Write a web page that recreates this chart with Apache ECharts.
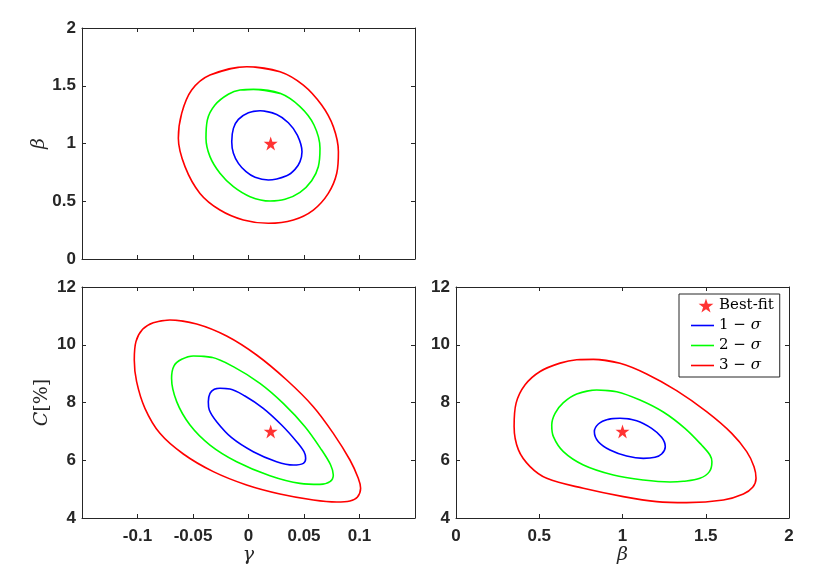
<!DOCTYPE html>
<html>
<head>
<meta charset="UTF-8">
<title>Confidence contours</title>
<script src="https://cdn.jsdelivr.net/npm/echarts@6/dist/echarts.min.js"></script>
<style>
  html, body { margin: 0; padding: 0; width: 100%; height: 100%; background: #fff; overflow: hidden; }
  #main { width: 830px; height: 576px; }
</style>
</head>
<body>
<div id="main"></div>
<script>
// best-fit point
var bestGamma = 0.02, bestBeta = 1.0, bestC = 7.0;

// axis ranges: [min, max, interval]
var gammaTicks = [-0.15, 0.15, 0.05];
var betaTicks = [0, 2, 0.5];
var cTicks = [4, 12, 2];

// gamma vs beta (top left), points read clockwise from the top
var gb1 = [[0.0104,1.284],[0.0254,1.252],[0.0359,1.180],[0.0440,1.073],[0.0482,0.929],[0.0464,0.843],
  [0.0419,0.776],[0.0344,0.721],[0.0179,0.684],[0.0059,0.707],[-0.0022,0.756],[-0.0091,0.828],
  [-0.0136,0.915],[-0.0151,1.016],[-0.0136,1.131],[-0.0091,1.209],[-0.0001,1.267]];
var gb2 = [[0.0044,1.469],[0.0284,1.434],[0.0464,1.319],[0.0590,1.160],[0.0644,0.958],[0.0629,0.799],
  [0.0569,0.678],[0.0464,0.577],[0.0329,0.517],[0.0194,0.502],[0.0014,0.540],[-0.0136,0.626],
  [-0.0257,0.742],[-0.0347,0.886],[-0.0383,1.045],[-0.0371,1.203],[-0.0302,1.333],[-0.0182,1.426],
  [-0.0076,1.463]];
var gb3 = [[-0.0016,1.665],[0.0284,1.622],[0.0494,1.506],[0.0659,1.333],[0.0764,1.146],[0.0810,0.929],
  [0.0795,0.742],[0.0719,0.568],[0.0584,0.424],[0.0404,0.338],[0.0179,0.309],[-0.0046,0.338],
  [-0.0257,0.424],[-0.0437,0.568],[-0.0572,0.800],[-0.0632,1.045],[-0.0602,1.261],[-0.0512,1.463],
  [-0.0347,1.593]];

// gamma vs C (bottom left)
var gc1 = [[-0.0257,8.491],[-0.0167,8.468],[-0.0032,8.225],[0.0133,7.798],[0.0298,7.221],[0.0434,6.644],
  [0.0500,6.297],[0.0515,6.066],[0.0494,5.893],[0.0404,5.835],[0.0253,5.951],[0.0043,6.297],
  [-0.0152,6.782],[-0.0287,7.336],[-0.0353,7.740],[-0.0362,8.029],[-0.0347,8.317],[-0.0308,8.456]];
var gc2 = [[-0.0497,9.610],[-0.0332,9.564],[-0.0137,9.241],[0.0103,8.664],[0.0313,7.971],[0.0509,7.163],
  [0.0659,6.355],[0.0740,5.835],[0.0764,5.489],[0.0734,5.259],[0.0644,5.166],[0.0464,5.200],
  [0.0193,5.466],[-0.0107,5.951],[-0.0347,6.528],[-0.0527,7.221],[-0.0647,8.029],[-0.0693,8.837],
  [-0.0672,9.264],[-0.0602,9.495]];
var gc3 = [[-0.0708,10.857],[-0.0467,10.719],[-0.0197,10.303],[0.0073,9.645],[0.0344,8.779],[0.0584,7.856],
  [0.0764,6.932],[0.0914,6.009],[0.0989,5.374],[0.1010,5.027],[0.0980,4.716],[0.0914,4.589],
  [0.0794,4.554],[0.0584,4.623],[0.0283,4.831],[-0.0017,5.143],[-0.0317,5.605],[-0.0587,6.216],
  [-0.0798,6.932],[-0.0933,7.798],[-0.1008,8.721],[-0.1029,9.472],[-0.1014,10.107],[-0.0954,10.534],
  [-0.0858,10.765]];

// beta vs C (bottom right)
var bc1 = [[0.985,7.452],[1.085,7.371],[1.175,7.105],[1.235,6.794],[1.257,6.471],[1.235,6.217],
  [1.195,6.101],[1.125,6.066],[1.025,6.147],[0.925,6.355],[0.855,6.644],[0.831,6.990],[0.855,7.255],
  [0.915,7.417]];
var bc2 = [[0.845,8.433],[0.965,8.375],[1.105,8.087],[1.245,7.671],[1.375,7.105],[1.475,6.528],
  [1.525,6.182],[1.537,5.951],[1.522,5.605],[1.465,5.374],[1.365,5.270],[1.285,5.247],[1.125,5.316],
  [0.945,5.489],[0.765,5.836],[0.645,6.297],[0.585,6.817],[0.575,7.221],[0.595,7.625],[0.645,7.994],
  [0.725,8.294]];
var bc3 = [[0.825,9.495],[0.985,9.356],[1.145,8.987],[1.325,8.410],[1.505,7.683],[1.656,6.932],
  [1.746,6.297],[1.790,5.778],[1.802,5.374],[1.782,5.062],[1.726,4.831],[1.606,4.623],[1.385,4.531],
  [1.205,4.566],[1.005,4.739],[0.765,5.027],[0.545,5.374],[0.445,5.780],[0.375,6.358],[0.349,7.168],
  [0.361,7.977],[0.415,8.613],[0.505,9.075],[0.625,9.364],[0.725,9.480]];

var legendNames = ['Best-fit', '1 \u2212 \u03c3', '2 \u2212 \u03c3', '3 \u2212 \u03c3'];
var sigmaColors = ['#0000ff', '#00ff00', '#ff0000'];

var starPath = 'path://M50,0 L61.8,35.3 L98.9,35.3 L68.9,57.1 L80.3,92.4 L50,70.6 L19.7,92.4 L31.1,57.1 L1.1,35.3 L38.2,35.3 Z';
var starIcon = 'path://M-45,46 L-45,46.01 L-44.99,46 Z M50,0 L61.8,35.3 L98.9,35.3 L68.9,57.1 L80.3,92.4 L50,70.6 L19.7,92.4 L31.1,57.1 L1.1,35.3 L38.2,35.3 Z';
var lineIcon = 'path://M0,0 L23,0 L23,1.6 L0,1.6 Z';
var ink = '#262626';

// wrap the loop so the smoothing has neighbours at the seam
function closeLoop(pts) {
  return [pts[pts.length - 1]].concat(pts, [pts[0], pts[1]]);
}

function axisPair(kind, grid, ticks, showLabels, name, nameGap) {
  var base = {
    gridIndex: grid,
    type: 'value',
    min: ticks[0], max: ticks[1], interval: ticks[2],
    axisLine: { show: true, onZero: false, lineStyle: { color: ink, width: 1 } },
    axisTick: { show: true, inside: true, length: 4, lineStyle: { color: ink } },
    splitLine: { show: false }
  };
  var main = Object.assign({}, base, {
    position: kind === 'x' ? 'bottom' : 'left',
    axisLabel: {
      show: showLabels, color: ink, fontFamily: 'Liberation Sans', fontWeight: 'bold', fontSize: 17,
      margin: kind === 'x' ? 10 : 6,
      showMinLabel: ticks !== gammaTicks,
      showMaxLabel: ticks !== gammaTicks,
      formatter: function (v) { return String(Math.round(v * 1000) / 1000); }
    }
  });
  if (name) {
    main.name = name;
    main.nameLocation = 'middle';
    main.nameGap = nameGap;
    main.nameTextStyle = {
      color: ink, fontFamily: 'DejaVu Serif', fontStyle: 'italic', fontSize: 19,
      rich: {
        i: { fontFamily: 'DejaVu Serif', fontStyle: 'italic', fontSize: 19, color: ink },
        u: { fontFamily: 'DejaVu Serif', fontStyle: 'normal', fontSize: 19, color: ink }
      }
    };
  }
  var mirror = Object.assign({}, base, {
    position: kind === 'x' ? 'top' : 'right',
    axisLabel: { show: false }
  });
  return [main, mirror];
}

var xAxes = [].concat(
  axisPair('x', 0, gammaTicks, false, null),
  axisPair('x', 1, gammaTicks, true, '\u03b3', 28),
  axisPair('x', 2, betaTicks, true, '\u03b2', 28)
);
var yAxes = [].concat(
  axisPair('y', 0, betaTicks, true, '\u03b2', 30),
  axisPair('y', 1, cTicks, true, '{i|C}{u|[%]}', 30),
  axisPair('y', 2, cTicks, true, null)
);

var panels = [
  { loops: [gb1, gb2, gb3], best: [bestGamma, bestBeta] },
  { loops: [gc1, gc2, gc3], best: [bestGamma, bestC] },
  { loops: [bc1, bc2, bc3], best: [bestBeta, bestC] }
];

var series = [];
panels.forEach(function (p, i) {
  p.loops.forEach(function (loop, k) {
    series.push({
      name: legendNames[k + 1],
      type: 'line',
      xAxisIndex: 2 * i, yAxisIndex: 2 * i,
      data: closeLoop(loop),
      symbol: 'none',
      smooth: 0.35,
      lineStyle: { color: sigmaColors[k], width: 1.6, join: 'round' },
      itemStyle: { color: sigmaColors[k] },
      animation: false
    });
  });
  series.push({
    name: legendNames[0],
    type: 'scatter',
    xAxisIndex: 2 * i, yAxisIndex: 2 * i,
    data: [p.best],
    symbol: starPath,
    symbolSize: 14,
    itemStyle: { color: '#ff0000' },
    z: 5,
    animation: false
  });
});

var chart = echarts.init(document.getElementById('main'));
chart.setOption({
  backgroundColor: '#ffffff',
  animation: false,
  grid: [
    { left: 82, top: 28, width: 333, height: 231 },
    { left: 82, top: 287, width: 333, height: 231 },
    { left: 456, top: 287, width: 333, height: 231 }
  ],
  xAxis: xAxes,
  yAxis: yAxes,
  legend: {
    orient: 'vertical',
    left: 679, top: 294,
    width: 104,
    padding: [4, 6, 4, 12],
    itemGap: 5,
    itemWidth: 23, itemHeight: 14,
    symbolKeepAspect: true,
    borderColor: ink, borderWidth: 1, borderRadius: 0,
    backgroundColor: '#ffffff',
    selectedMode: false,
    data: legendNames.map(function (n, i) {
      return { name: n, icon: i === 0 ? starIcon : lineIcon };
    }),
    formatter: function (n) {
      if (n === legendNames[0]) return '{t|' + n + '}';
      return '{t|' + n.charAt(0) + ' \u2212 }{s|\u03c3}';
    },
    textStyle: {
      color: '#000', fontFamily: 'DejaVu Serif', fontSize: 15,
      rich: {
        t: { fontFamily: 'DejaVu Serif', fontSize: 15, color: '#000' },
        s: { fontFamily: 'DejaVu Serif', fontStyle: 'italic', fontSize: 15, color: '#000' }
      }
    }
  },
  series: series
});
</script>
</body>
</html>
